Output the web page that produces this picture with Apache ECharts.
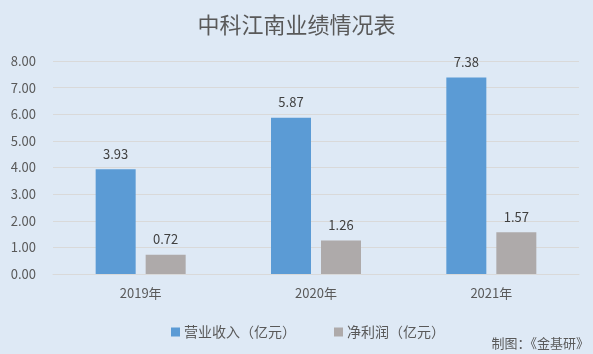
<!DOCTYPE html>
<html>
<head>
<meta charset="utf-8">
<script src="https://cdn.jsdelivr.net/npm/echarts@6/dist/echarts.min.js"></script>
<style>
  html, body { margin: 0; padding: 0; background: #dee9f5; }
  #chart { width: 593px; height: 354px; }
</style>
</head>
<body>
<div id="chart"></div>
<script>
const categories = ["2019年", "2020年", "2021年"];
const revenue = [3.93, 5.87, 7.38];
const netProfit = [0.72, 1.26, 1.57];
const seriesNames = ["营业收入（亿元）", "净利润（亿元）"];

const font = '"Noto Sans CJK SC", "Microsoft YaHei", sans-serif';
const chart = echarts.init(document.getElementById("chart"));

const labelStyle = {
  show: true,
  position: "top",
  distance: 9,
  color: "#404040",
  fontSize: 13,
  fontFamily: font,
  formatter: (p) => p.value.toFixed(2)
};

chart.setOption({
  backgroundColor: "#dee9f5",
  animation: false,
  title: {
    text: "中科江南业绩情况表",
    left: "center",
    top: 9,
    textStyle: { color: "#595959", fontSize: 22, fontWeight: "normal", fontFamily: font }
  },
  legend: {
    data: seriesNames,
    left: 166,
    top: 320,
    itemWidth: 9,
    itemHeight: 9,
    itemGap: 38,
    icon: "rect",
    textStyle: { color: "#595959", fontSize: 14, fontFamily: font, padding: [0, 0, 0, -1] }
  },
  graphic: [{
    type: "text",
    right: 4,
    top: 337,
    style: { text: "制图：《金基研》", fill: "#595959", font: "13px " + font }
  }],
  grid: { left: 53, right: 14, top: 61, bottom: 80, containLabel: false },
  xAxis: {
    type: "category",
    data: categories,
    axisLine: { lineStyle: { color: "#d9d9d9" } },
    axisTick: { show: false },
    axisLabel: { color: "#595959", fontSize: 13, fontFamily: font, margin: 13 }
  },
  yAxis: {
    type: "value",
    min: 0,
    max: 8,
    interval: 1,
    axisLine: { show: false },
    axisTick: { show: false },
    splitLine: { lineStyle: { color: "#d9d9d9" } },
    axisLabel: {
      color: "#595959",
      fontSize: 13,
      fontFamily: font,
      margin: 17,
      formatter: (v) => v.toFixed(2)
    }
  },
  series: [
    {
      name: seriesNames[0],
      type: "bar",
      data: revenue,
      barWidth: 40,
      barGap: "25%",
      itemStyle: { color: "#5b9bd5" },
      label: labelStyle
    },
    {
      name: seriesNames[1],
      type: "bar",
      data: netProfit,
      barWidth: 40,
      itemStyle: { color: "#aeaaaa" },
      label: labelStyle
    }
  ]
});
</script>
</body>
</html>
